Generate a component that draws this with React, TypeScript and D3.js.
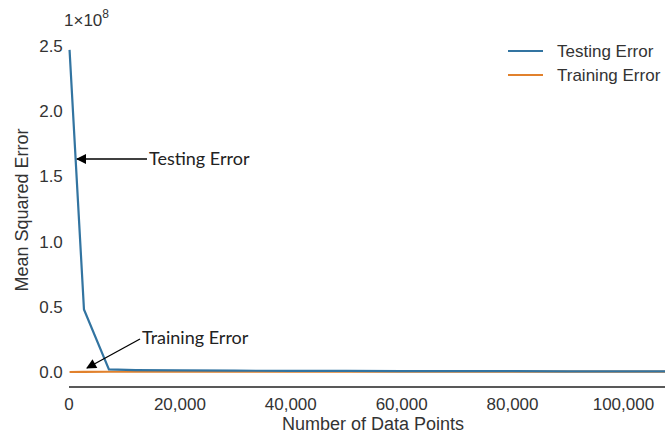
import React from "react";
import * as d3 from "d3";

const xValues = [100, 2700, 7200, 12000, 20000, 30000, 40000, 50000, 60000, 70000, 80000, 90000, 100000, 107500];
const testingError = [2.47, 0.48, 0.02, 0.015, 0.012, 0.01, 0.009, 0.008, 0.007, 0.006, 0.006, 0.005, 0.005, 0.005];
const trainingError = [0.0, 0.001, 0.002, 0.002, 0.003, 0.003, 0.003, 0.003, 0.003, 0.003, 0.003, 0.003, 0.003, 0.003];
const xTicks = [0, 20000, 40000, 60000, 80000, 100000];
const yTicks = [0, 0.5, 1.0, 1.5, 2.0, 2.5];
const seriesNames = ["Testing Error", "Training Error"];
const colors = ["#3274a1", "#e1812c"];

const W = 665, H = 434;
const left = 69, right = 665, top = 46, bottom = 372;

export default function App() {
  const x = d3.scaleLinear().domain([0, 107500]).range([left, right]);
  const y = d3.scaleLinear().domain([0, 2.5]).range([bottom, top]);
  const line = d3.line<number>().x((_, i) => x(xValues[i])).y((d) => y(d));
  const fmt = d3.format(",");
  const tickFont = "'Liberation Sans', Arial, sans-serif";
  const annFont = "Lato, 'Open Sans', sans-serif";
  return (
    <svg width={W} height={H} style={{ position: "absolute", left: 0, top: 0, background: "#fff" }}>
      <defs>
        <marker id="arr" viewBox="0 0 10 10" refX="9" refY="5" markerWidth="14" markerHeight="10" markerUnits="userSpaceOnUse" orient="auto">
          <path d="M0,0 L10,5 L0,10 z" fill="#000" />
        </marker>
      </defs>
      <line x1={left} x2={right} y1={387} y2={387} stroke="#222" strokeWidth={1.6} />
      {xTicks.map((t) => (
        <text key={t} x={x(t)} y={410} textAnchor="middle" fontFamily={tickFont} fontSize={17} fill="#333">
          {fmt(t)}
        </text>
      ))}
      {yTicks.map((t) => (
        <text key={t} x={51} y={y(t) + 6} textAnchor="middle" fontFamily={tickFont} fontSize={17} fill="#333">
          {t.toFixed(1)}
        </text>
      ))}
      <text x={64} y={26} fontFamily={tickFont} fontSize={17} fill="#333">
        1×10<tspan dy={-8} fontSize={12}>8</tspan>
      </text>
      <text x={373} y={430} textAnchor="middle" fontFamily={tickFont} fontSize={18} fill="#333">Number of Data Points</text>
      <text transform={`translate(28,210) rotate(-90)`} textAnchor="middle" fontFamily={tickFont} fontSize={18} fill="#333">Mean Squared Error</text>
      <path d={line(trainingError) || ""} fill="none" stroke={colors[1]} strokeWidth={2.2} />
      <path d={line(testingError) || ""} fill="none" stroke={colors[0]} strokeWidth={2.2} />
      {seriesNames.map((n, i) => (
        <g key={n} transform={`translate(508,${51 + i * 24})`}>
          <line x1={0} x2={35} y1={0} y2={0} stroke={colors[i]} strokeWidth={2.2} />
          <text x={49} y={6} fontFamily={tickFont} fontSize={17} fill="#333">{n}</text>
        </g>
      ))}
      <line x1={147} y1={159} x2={77} y2={159} stroke="#000" strokeWidth={1.3} markerEnd="url(#arr)" />
      <text x={149} y={165} fontFamily={annFont} fontSize={18} fill="#222">Testing Error</text>
      <line x1={140} y1={339} x2={87} y2={368} stroke="#000" strokeWidth={1.3} markerEnd="url(#arr)" />
      <text x={142} y={344} fontFamily={annFont} fontSize={18} fill="#222">Training Error</text>
    </svg>
  );
}
